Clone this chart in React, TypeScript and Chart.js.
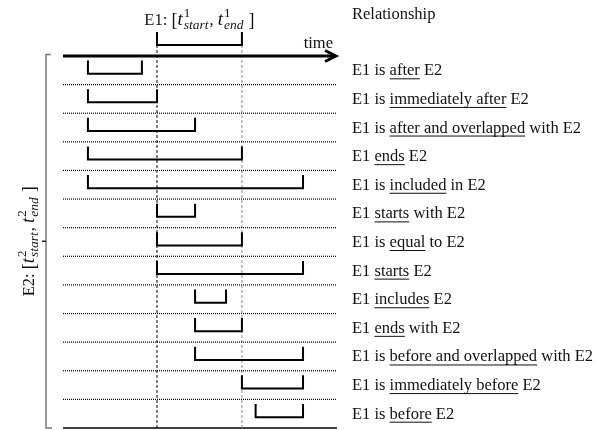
import React, { useEffect, useRef } from 'react';
import { Chart, registerables } from 'chart.js';

Chart.register(...registerables);

// ---- data ----
const TIME_MIN = 0;
const TIME_MAX = 100;
const ROW_COUNT = 13;
const E1_INTERVAL = [34.3, 65.3];
const E2_START = [9.1, 9.1, 9.1, 9.1, 9.1, 34.3, 34.3, 34.3, 48.2, 48.2, 48.2, 65.3, 70.3];
const E2_END = [28.8, 34.3, 48.2, 65.3, 87.6, 48.2, 65.3, 87.6, 59.5, 65.3, 87.6, 87.6, 87.6];
const REL_PREFIX = ['E1 is ', 'E1 is ', 'E1 is ', 'E1 ', 'E1 is ', 'E1 ', 'E1 is ', 'E1 ', 'E1 ', 'E1 ', 'E1 is ', 'E1 is ', 'E1 is '];
const REL_UNDERLINED = ['after', 'immediately after', 'after and overlapped', 'ends', 'included', 'starts', 'equal', 'starts', 'includes', 'ends', 'before and overlapped', 'immediately before', 'before'];
const REL_SUFFIX = [' E2', ' E2', ' with E2', ' E2', ' in E2', ' with E2', ' to E2', ' E2', ' E2', ' with E2', ' with E2', ' E2', ' E2'];
const HEADER = 'Relationship';
const AXIS_LABEL = 'time';

// bracket geometry in row units
const BR_TOP = 0.16;
const BR_BOTTOM = 0.62;
const E1_BR_TOP = -0.84;
const E1_BR_BOTTOM = -0.385;

const SERIF = '"Liberation Serif", "Times New Roman", serif';
const FS = 16.5;

type Seg = { text: string; font: string; dy: number; kind: 'n' | 'sup' | 'sub' };

function mathLabel(name: string, idx: string): Seg[] {
  const nf = `${FS}px ${SERIF}`;
  const bf = `18px ${SERIF}`;
  const tf = `italic 19px ${SERIF}`;
  const sf = `13px ${SERIF}`;
  const sif = `italic 13.5px ${SERIF}`;
  return [
    { text: `${name}: `, font: nf, dy: 0, kind: 'n' },
    { text: '[', font: bf, dy: 0.5, kind: 'n' },
    { text: 't', font: tf, dy: 0, kind: 'n' },
    { text: idx, font: sf, dy: -8, kind: 'sup' },
    { text: 'start', font: sif, dy: 4, kind: 'sub' },
    { text: ', ', font: nf, dy: 0, kind: 'n' },
    { text: 't', font: tf, dy: 0, kind: 'n' },
    { text: idx, font: sf, dy: -8, kind: 'sup' },
    { text: 'end', font: sif, dy: 4, kind: 'sub' },
    { text: ' ', font: nf, dy: 0, kind: 'n' },
    { text: ']', font: bf, dy: 0.5, kind: 'n' },
  ];
}

function layoutSegs(ctx: CanvasRenderingContext2D, segs: Seg[], draw: boolean, x0: number, y0: number) {
  let x = x0;
  let supW = 0;
  for (const s of segs) {
    ctx.font = s.font;
    const w = ctx.measureText(s.text).width;
    if (draw) ctx.fillText(s.text, x + (s.kind === 'n' ? 0 : 1), y0 + s.dy);
    if (s.kind === 'sup') {
      supW = w;
    } else if (s.kind === 'sub') {
      x += Math.max(w, supW) + 2;
      supW = 0;
    } else {
      x += w;
    }
  }
  return x - x0;
}

const diagramPlugin = {
  id: 'diagram',
  afterDatasetsDraw(chart: any) {
    const ctx: CanvasRenderingContext2D = chart.ctx;
    const xs = chart.scales.x;
    const ys = chart.scales.y;
    const area = chart.chartArea;
    ctx.save();

    // time axis with arrow
    const y0 = ys.getPixelForValue(0);
    const xL = area.left;
    const xR = area.right - 1;
    ctx.strokeStyle = '#000';
    ctx.lineWidth = 3;
    ctx.lineJoin = 'miter';
    ctx.beginPath();
    ctx.moveTo(xL, y0);
    ctx.lineTo(xR - 2, y0);
    ctx.stroke();
    ctx.beginPath();
    ctx.moveTo(xR - 11, y0 - 5.5);
    ctx.lineTo(xR, y0);
    ctx.lineTo(xR - 11, y0 + 5.5);
    ctx.stroke();

    // "time"
    ctx.fillStyle = '#111';
    ctx.font = `${FS}px ${SERIF}`;
    ctx.textAlign = 'right';
    ctx.textBaseline = 'alphabetic';
    ctx.fillText(AXIS_LABEL, xR - 3, y0 - 8);

    // relationship labels
    const tx = area.right + 15;
    ctx.textAlign = 'left';
    ctx.fillText(HEADER, tx, 19);
    for (let i = 0; i < ROW_COUNT; i++) {
      const cy = ys.getPixelForValue(i + 0.5);
      const base = cy + 5;
      let x = tx;
      ctx.font = `${FS}px ${SERIF}`;
      ctx.fillText(REL_PREFIX[i], x, base);
      x += ctx.measureText(REL_PREFIX[i]).width;
      ctx.fillText(REL_UNDERLINED[i], x, base);
      const uw = ctx.measureText(REL_UNDERLINED[i]).width;
      ctx.fillRect(x, base + 3, uw, 1);
      x += uw;
      ctx.fillText(REL_SUFFIX[i], x, base);
    }

    // E1 label on top
    const e1Segs = mathLabel('E1', '1');
    const e1W = layoutSegs(ctx, e1Segs, false, 0, 0);
    const e1cx = (xs.getPixelForValue(E1_INTERVAL[0]) + xs.getPixelForValue(E1_INTERVAL[1])) / 2;
    layoutSegs(ctx, e1Segs, true, e1cx - e1W / 2, 25);

    // E2 bracket on left
    const yBot = ys.getPixelForValue(ROW_COUNT);
    const yTop = y0 - 1.5;
    const bx = area.left - 17;
    ctx.strokeStyle = '#7a7a7a';
    ctx.lineWidth = 1.5;
    ctx.beginPath();
    ctx.moveTo(bx + 5, yTop);
    ctx.lineTo(bx, yTop);
    ctx.lineTo(bx, yBot);
    ctx.lineTo(bx + 6, yBot);
    ctx.stroke();
    const ym = (yTop + yBot) / 2;
    ctx.strokeStyle = '#222';
    ctx.beginPath();
    ctx.moveTo(bx, ym);
    ctx.lineTo(bx - 4, ym);
    ctx.stroke();

    // E2 label (rotated)
    const e2Segs = mathLabel('E2', '2');
    const e2W = layoutSegs(ctx, e2Segs, false, 0, 0);
    ctx.translate(bx - 17, ym);
    ctx.rotate(-Math.PI / 2);
    ctx.fillStyle = '#111';
    layoutSegs(ctx, e2Segs, true, -e2W / 2, 5);

    ctx.restore();
  },
};

function bracket(s: number, e: number, top: number, bottom: number) {
  return [
    { x: s, y: top },
    { x: s, y: bottom },
    { x: e, y: bottom },
    { x: e, y: top },
  ];
}

export default function App() {
  const ref = useRef<HTMLCanvasElement | null>(null);
  useEffect(() => {
    if (!ref.current) return;
    const base = { pointRadius: 0, fill: false, tension: 0, clip: false as any, borderJoinStyle: 'miter' as const };
    const datasets: any[] = [];
    for (let i = 0; i < ROW_COUNT; i++) {
      datasets.push({
        ...base,
        data: bracket(E2_START[i], E2_END[i], i + BR_TOP, i + BR_BOTTOM),
        borderColor: '#000',
        borderWidth: 2,
      });
    }
    datasets.push({
      ...base,
      data: bracket(E1_INTERVAL[0], E1_INTERVAL[1], E1_BR_TOP, E1_BR_BOTTOM),
      borderColor: '#000',
      borderWidth: 2,
    });
    for (let i = 1; i < ROW_COUNT; i++) {
      datasets.push({
        ...base,
        data: [{ x: TIME_MIN, y: i }, { x: TIME_MAX, y: i }],
        borderColor: '#000',
        borderWidth: 1.2,
        borderDash: [1, 1],
      });
    }
    datasets.push({
      ...base,
      data: [{ x: E1_INTERVAL[0], y: E1_BR_BOTTOM }, { x: E1_INTERVAL[0], y: ROW_COUNT }],
      borderColor: '#000',
      borderWidth: 1,
      borderDash: [3, 2],
    });
    datasets.push({
      ...base,
      data: [{ x: E1_INTERVAL[1], y: E1_BR_BOTTOM }, { x: E1_INTERVAL[1], y: ROW_COUNT }],
      borderColor: '#888',
      borderWidth: 1,
      borderDash: [3, 2],
    });
    datasets.push({
      ...base,
      data: [{ x: TIME_MIN, y: ROW_COUNT }, { x: TIME_MAX, y: ROW_COUNT }],
      borderColor: '#000',
      borderWidth: 1.5,
    });

    const chart = new Chart(ref.current, {
      type: 'line',
      data: { datasets },
      options: {
        animation: false,
        responsive: false,
        devicePixelRatio: 1,
        events: [],
        layout: { padding: { left: 63, right: 268, top: 56, bottom: 2 } },
        scales: {
          x: { type: 'linear', min: TIME_MIN, max: TIME_MAX, display: false },
          y: { type: 'linear', min: 0, max: ROW_COUNT, reverse: true, display: false },
        },
        plugins: { legend: { display: false }, tooltip: { enabled: false } },
      },
      plugins: [diagramPlugin],
    });
    return () => chart.destroy();
  }, []);
  return (
    <div style={{ position: 'absolute', left: 0, top: 0, width: 605, height: 430, background: '#fff' }}>
      <canvas ref={ref} width={605} height={430} />
    </div>
  );
}
